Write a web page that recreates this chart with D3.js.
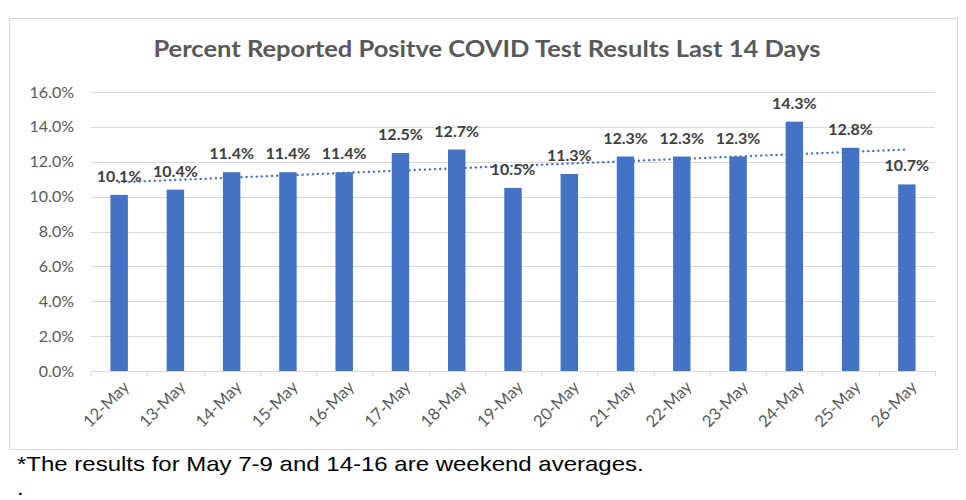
<!DOCTYPE html>
<html>
<head>
<meta charset="utf-8">
<script src="https://cdn.jsdelivr.net/npm/d3@7"></script>
<style>
  body { margin:0; background:#fff; }
  text { font-family: Lato, "Open Sans", sans-serif; }
</style>
</head>
<body>
<div id="plot"></div>
<script>
// data
var days = ['12-May','13-May','14-May','15-May','16-May','17-May','18-May','19-May',
            '20-May','21-May','22-May','23-May','24-May','25-May','26-May'];
var positivity = [10.1,10.4,11.4,11.4,11.4,12.5,12.7,10.5,11.3,12.3,12.3,12.3,14.3,12.8,10.7];
var yTicks = [0,2,4,6,8,10,12,14,16];
var title = 'Percent Reported Positve COVID Test Results Last 14 Days';
var footnote = '*The results for May 7-9 and 14-16 are weekend averages.';

var W = 966, H = 500;
var margin = {t:92, r:31, b:129, l:91};
var width = W - margin.l - margin.r,
    height = H - margin.t - margin.b;

var svg = d3.select('#plot')
  .append('svg')
  .attr('width', W)
  .attr('height', H);

svg.append('rect').attr('width', W).attr('height', H).attr('fill', '#fff');

// chart frame
svg.append('rect')
  .attr('x', 9.5).attr('y', 18.5)
  .attr('width', 948).attr('height', 431)
  .attr('fill', 'none')
  .attr('stroke', '#d9d9d9');

// title, stretched a bit sideways like the original
svg.append('text')
  .attr('transform', 'translate(487,57) scale(1.16,1)')
  .attr('text-anchor', 'middle')
  .attr('font-size', 22)
  .attr('font-weight', 'bold')
  .attr('fill', '#595959')
  .text(title);

var plot = svg.append('g')
  .attr('transform', 'translate(' + margin.l + ',' + margin.t + ')');

var x = d3.scaleBand().domain(days).range([0, width]).paddingInner(0.69).paddingOuter(0.345);
var y = d3.scaleLinear().domain([0, 16]).range([height, 0]);

// gridlines
plot.selectAll('.grid')
  .data(yTicks)
  .enter().append('line')
  .attr('x1', 0).attr('x2', width)
  .attr('y1', function(d){ return Math.round(y(d)) + 0.5; })
  .attr('y2', function(d){ return Math.round(y(d)) + 0.5; })
  .attr('stroke', '#d9d9d9')
  .attr('stroke-width', 1);

// y labels
plot.selectAll('.ylab')
  .data(yTicks)
  .enter().append('text')
  .attr('x', -17)
  .attr('y', function(d){ return y(d); })
  .attr('dy', '0.35em')
  .attr('text-anchor', 'end')
  .attr('font-size', 16)
  .attr('fill', '#595959')
  .text(function(d){ return d.toFixed(1) + '%'; });

// x axis line + ticks between categories
var step = x.step();
plot.append('line')
  .attr('x1', 0).attr('x2', width)
  .attr('y1', height + 0.5).attr('y2', height + 0.5)
  .attr('stroke', '#d9d9d9');
plot.selectAll('.xtick')
  .data(d3.range(days.length + 1))
  .enter().append('line')
  .attr('x1', function(i){ return Math.round(i * step) + 0.5; })
  .attr('x2', function(i){ return Math.round(i * step) + 0.5; })
  .attr('y1', height).attr('y2', height + 5)
  .attr('stroke', '#d9d9d9');

// bars
plot.selectAll('.bar')
  .data(positivity)
  .enter().append('rect')
  .attr('x', function(d, i){ return x(days[i]); })
  .attr('y', function(d){ return y(d); })
  .attr('width', x.bandwidth())
  .attr('height', function(d){ return height - y(d); })
  .attr('fill', '#4472c4');

// linear trendline (least squares)
var n = positivity.length;
var mx = d3.mean(d3.range(n)), my = d3.mean(positivity);
var sxy = d3.sum(positivity, function(v, i){ return (i - mx) * (v - my); });
var sxx = d3.sum(d3.range(n), function(i){ return (i - mx) * (i - mx); });
var slope = sxy / sxx, icpt = my - slope * mx;
var cx = function(i){ return x(days[i]) + x.bandwidth() / 2; };
plot.append('line')
  .attr('x1', cx(0)).attr('y1', y(icpt))
  .attr('x2', cx(n - 1)).attr('y2', y(icpt + slope * (n - 1)))
  .attr('stroke', '#4472c4')
  .attr('stroke-width', 2.4)
  .attr('stroke-linecap', 'round')
  .attr('stroke-dasharray', '0.1,5');

// value labels
plot.selectAll('.val')
  .data(positivity)
  .enter().append('text')
  .attr('x', function(d, i){ return cx(i); })
  .attr('y', function(d){ return y(d) - 13; })
  .attr('text-anchor', 'middle')
  .attr('font-size', 16)
  .attr('font-weight', 'bold')
  .attr('fill', '#404040')
  .text(function(d){ return d.toFixed(1) + '%'; });

// x labels, rotated
plot.selectAll('.xlab')
  .data(days)
  .enter().append('text')
  .attr('transform', function(d){
    return 'translate(' + (x(d) + x.bandwidth() / 2 + 7) + ',' + (height + 13) + ') rotate(-45)';
  })
  .attr('text-anchor', 'end')
  .attr('dy', '0.35em')
  .attr('font-size', 16.5)
  .attr('fill', '#595959')
  .text(function(d){ return d; });

// footnote
svg.append('text')
  .attr('transform', 'translate(17,471) scale(1.2,1)')
  .style('font-family', '"Liberation Sans", Arial, sans-serif')
  .attr('font-size', 20)
  .attr('fill', '#000')
  .text(footnote);
svg.append('text')
  .attr('transform', 'translate(17,495) scale(1.2,1)')
  .style('font-family', '"Liberation Sans", Arial, sans-serif')
  .attr('font-size', 20)
  .attr('fill', '#000')
  .text('.');
</script>
</body>
</html>
